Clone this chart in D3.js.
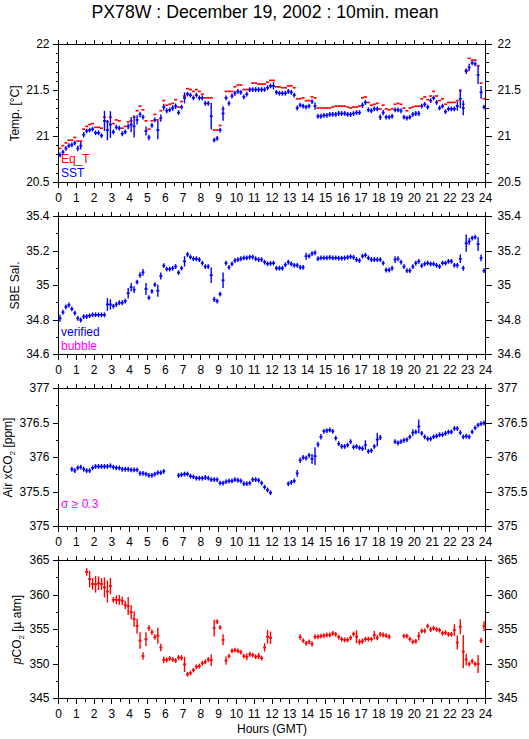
<!DOCTYPE html>
<html><head><meta charset="utf-8">
<script src="https://cdn.jsdelivr.net/npm/d3@7"></script>
<style>
body{margin:0;background:#fff}
svg{display:block}
text{font-family:"Liberation Sans",Arial,Helvetica,sans-serif}
</style></head><body>
<svg id="c" width="529" height="739"></svg>
<script>
const title = "PX78W : December 19, 2002 : 10min. mean";
const xTitle = "Hours (GMT)";
const hours = [0,1,2,3,4,5,6,7,8,9,10,11,12,13,14,15,16,17,18,19,20,21,22,23,24];
const slotHours = 1/6; // 10-minute means

const tempTicks = [20.5,21,21.5,22];
const tempMinor = [20.6,20.7,20.8,20.9,21.1,21.2,21.3,21.4,21.6,21.7,21.8,21.9];
const salTicks = [34.6,34.8,35,35.2,35.4];
const salMinor = [34.7,34.9,35.1,35.3];
const co2Ticks = [375,375.5,376,376.5,377];
const co2Minor = [375.25,375.75,376.25,376.75];
const pco2Ticks = [345,350,355,360,365];
const pco2Minor = [347.5,352.5,357.5,362.5];

const sst = [20.80,20.83,20.87,20.90,20.91,20.93,20.87,20.90,21.02,21.06,
21.07,21.08,21.04,21.04,21.01,21.17,21.07,21.13,21.05,21.10,
21.09,21.03,21.05,21.11,21.13,21.11,21.18,21.24,21.21,21.06,
20.99,21.12,21.18,21.07,21.20,21.32,21.28,21.29,21.31,21.33,
21.26,21.32,21.42,21.46,21.45,21.42,21.45,21.42,21.42,21.36,
21.36,21.22,20.96,20.98,21.07,21.25,21.42,21.36,21.44,21.47,
21.49,21.48,21.43,21.46,21.51,21.51,21.51,21.51,21.51,21.51,
21.53,21.55,21.55,21.48,21.47,21.47,21.47,21.49,21.48,21.45,
21.31,21.34,21.33,21.32,21.33,21.38,21.33,21.22,21.22,21.23,
21.23,21.24,21.24,21.24,21.25,21.25,21.25,21.24,21.24,21.25,
21.26,21.26,21.34,21.37,21.29,21.28,21.30,21.30,21.21,21.26,
21.21,21.21,21.22,21.29,21.29,21.28,21.21,21.20,21.21,21.24,
21.25,21.25,21.33,21.35,21.32,21.39,21.42,21.37,21.31,21.33,
21.27,21.30,21.30,21.30,21.33,21.41,21.31,21.71,21.75,21.80,
21.79,21.67,21.48,21.32];
const sstErr = [0.02,0.02,0.02,0.02,0.02,0.02,0.03,0.04,0.03,0.02,0.02,0.02,
0.02,0.02,0.02,0.11,0.11,0.145,0.02,0.02,0.02,0.02,0.02,0.03,
0.08,0.12,0.05,0.03,0.02,0.05,0.03,0.02,0.02,0.1,0.04,0.035,
0.02,0.02,0.03,0.03,0.02,0.02,0.06,0.02,0.02,0.02,0.02,0.02,
0.02,0.02,0.02,0.145,0.02,0.02,0.02,0.08,0.02,0.02,0.02,0.02,
0.02,0.02,0.02,0.02,0.02,0.02,0.02,0.02,0.02,0.02,0.02,0.02,
0.04,0.02,0.02,0.02,0.02,0.02,0.02,0.02,0.02,0.02,0.02,0.02,
0.02,0.02,0.04,0.02,0.02,0.02,0.02,0.02,0.02,0.02,0.02,0.02,
0.02,0.02,0.02,0.02,0.02,0.02,0.03,0.02,0.02,0.02,0.02,0.02,
0.03,0.03,0.02,0.02,0.02,0.02,0.02,0.02,0.02,0.02,0.02,0.02,
0.02,0.02,0.02,0.02,0.02,0.02,0.02,0.02,0.02,0.02,0.02,0.02,
0.02,0.02,0.05,0.1,0.08,0.03,0.04,0.02,0.02,0.1,0.07,0.02];
const eqT = [20.87,20.90,20.93,20.96,20.96,20.99,20.95,20.95,21.08,21.11,
21.13,21.14,21.10,21.10,21.09,21.21,21.16,21.21,21.14,21.18,
21.17,21.09,21.11,21.16,21.17,21.21,21.28,21.33,21.29,21.17,
21.08,21.17,21.24,21.18,21.28,21.39,21.34,21.35,21.36,21.40,
21.32,21.38,21.44,21.52,21.51,21.49,21.51,21.49,21.46,21.42,
21.42,21.42,21.07,21.07,21.12,21.30,21.49,21.49,21.49,21.54,
21.56,21.56,21.51,21.51,21.51,21.58,21.58,21.57,21.57,21.57,
21.59,21.61,21.61,21.54,21.54,21.53,21.53,21.55,21.55,21.53,
21.41,21.41,21.42,21.39,21.39,21.43,21.42,21.31,21.31,21.31,
21.31,21.31,21.32,21.33,21.33,21.33,21.33,21.32,21.31,21.32,
21.32,21.33,21.42,21.43,21.37,21.34,21.35,21.36,21.30,21.34,
21.30,21.29,21.30,21.35,21.36,21.35,21.31,21.28,21.31,21.32,
21.33,21.33,21.41,21.43,21.40,21.44,21.49,21.44,21.39,21.41,
21.35,21.37,21.37,21.37,21.39,21.50,21.35,21.72,21.85,21.83,
21.83,21.77,21.58,21.41];

const sal = [34.81,34.845,34.876,34.887,34.864,34.84,34.81,34.80,34.82,34.82,
34.825,34.83,34.83,34.83,34.83,34.83,34.89,34.89,34.88,34.89,
34.90,34.90,34.91,34.955,34.99,34.976,35.02,35.06,35.076,34.98,
34.93,34.966,35.005,34.97,35.055,35.115,35.095,35.095,35.10,35.11,
35.075,35.10,35.14,35.18,35.165,35.155,35.155,35.15,35.13,35.11,
35.11,35.06,34.92,34.91,34.95,35.03,35.13,35.105,35.125,35.145,
35.15,35.155,35.16,35.16,35.165,35.165,35.155,35.15,35.15,35.135,
35.126,35.128,35.13,35.10,35.10,35.10,35.12,35.135,35.125,35.117,
35.117,35.105,35.105,35.17,35.17,35.185,35.19,35.155,35.16,35.16,
35.16,35.163,35.16,35.16,35.158,35.158,35.16,35.163,35.167,35.163,
35.15,35.145,35.17,35.176,35.16,35.15,35.15,35.15,35.15,35.13,
35.09,35.09,35.10,35.15,35.155,35.135,35.11,35.086,35.086,35.11,
35.13,35.14,35.115,35.125,35.13,35.125,35.125,35.117,35.11,35.13,
35.13,35.14,35.14,35.117,35.117,35.155,35.10,35.245,35.255,35.275,
35.28,35.24,35.16,35.086];
const salErr = [0.02,0.01,0.01,0.01,0.01,0.01,0.01,0.01,0.01,0.01,0.01,0.01,
0.01,0.01,0.01,0.01,0.037,0.03,0.01,0.01,0.01,0.01,0.01,0.03,
0.025,0.02,0.01,0.017,0.02,0.035,0.01,0.01,0.01,0.035,0.02,0.01,
0.01,0.01,0.01,0.01,0.01,0.01,0.03,0.01,0.01,0.01,0.01,0.01,
0.01,0.01,0.01,0.045,0.015,0.01,0.01,0.045,0.01,0.01,0.01,0.01,
0.01,0.01,0.01,0.01,0.01,0.01,0.01,0.01,0.01,0.01,0.01,0.01,
0.01,0.01,0.01,0.01,0.01,0.01,0.01,0.01,0.01,0.01,0.01,0.02,
0.01,0.01,0.01,0.01,0.01,0.01,0.01,0.01,0.01,0.01,0.01,0.01,
0.01,0.01,0.01,0.01,0.01,0.01,0.01,0.01,0.01,0.01,0.01,0.01,
0.01,0.01,0.01,0.01,0.01,0.02,0.01,0.01,0.01,0.01,0.01,0.01,
0.01,0.01,0.01,0.01,0.01,0.01,0.01,0.01,0.01,0.01,0.01,0.01,
0.01,0.01,0.01,0.025,0.01,0.05,0.02,0.01,0.01,0.04,0.02,0.01];

const airCO2 = [null,null,null,null,
375.83,375.81,375.85,375.86,375.83,375.81,375.81,375.85,375.87,375.87,375.87,375.87,
375.87,375.88,375.86,375.85,375.85,375.83,375.83,375.83,375.82,375.82,375.82,375.77,
375.77,375.76,375.74,375.74,375.76,375.78,375.78,375.80,
null,null,null,null,
375.74,375.75,375.76,375.76,375.73,375.72,375.70,375.70,375.70,375.71,375.70,375.68,
375.68,375.68,375.63,375.63,375.65,375.66,375.66,375.68,375.67,375.66,375.62,375.62,
375.63,375.68,375.68,375.67,375.63,375.57,375.53,375.49,
null,null,null,null,null,
375.62,375.64,375.66,375.77,375.96,376.00,375.99,376.03,375.98,376.02,376.19,376.30,
376.38,376.39,376.40,376.38,376.28,376.20,376.16,376.16,376.18,376.23,376.15,376.16,
376.14,376.13,376.18,376.09,376.10,376.16,376.26,376.29,
null,null,null,null,
376.23,376.21,376.23,376.25,376.26,376.30,376.36,376.37,376.45,376.35,376.30,376.27,
376.27,376.30,376.31,376.33,376.33,376.35,376.37,376.37,376.42,376.42,376.36,376.30,
376.31,376.30,376.37,376.43,376.47,376.49,376.50];
const airCO2Err = [0,0,0,0,
0.03,0.03,0.03,0.03,0.03,0.03,0.03,0.03,0.03,0.03,0.03,0.03,
0.03,0.03,0.03,0.03,0.03,0.03,0.03,0.03,0.03,0.03,0.03,0.03,
0.03,0.03,0.03,0.03,0.03,0.03,0.03,0.03,
0,0,0,0,
0.03,0.03,0.03,0.03,0.03,0.03,0.03,0.03,0.03,0.03,0.03,0.03,
0.03,0.03,0.03,0.03,0.03,0.03,0.03,0.03,0.03,0.03,0.03,0.03,
0.03,0.03,0.03,0.03,0.03,0.03,0.03,0.03,
0,0,0,0,0,
0.03,0.03,0.03,0.05,0.04,0.03,0.03,0.03,0.07,0.13,0.04,0.04,
0.03,0.03,0.03,0.03,0.03,0.03,0.03,0.03,0.03,0.03,0.03,0.03,
0.03,0.03,0.07,0.03,0.03,0.03,0.1,0.03,
0,0,0,0,
0.03,0.03,0.03,0.03,0.03,0.03,0.05,0.03,0.1,0.03,0.03,0.03,
0.03,0.03,0.03,0.03,0.03,0.03,0.03,0.03,0.03,0.03,0.03,0.03,
0.03,0.03,0.03,0.03,0.03,0.03,0.03];

const pCO2 = [null,null,null,null,null,null,null,null,null,
363.35,362.3,361.6,361.55,361.7,361.6,361.1,360.5,361.3,
359.3,359.3,359.3,359.15,358.55,358.4,357.5,356.5,355.5,353.4,351.15,353.6,
355.2,354.6,353.9,354.1,352.4,350.6,350.6,350.8,350.65,350.5,350.95,350.9,
349.95,348.5,348.7,349.1,349.6,349.7,350.1,350.3,350.65,350.55,355.2,356.15,
355.3,353.5,350.5,351.15,351.9,352.0,351.9,351.7,351.15,351.05,351.4,351.3,
351.05,351.15,350.85,352.4,353.95,353.8,
null,null,null,null,null,null,null,null,null,
353.9,353.4,353.0,353.2,352.9,353.95,353.95,354.05,354.1,354.2,354.2,354.45,
354.3,353.9,353.6,353.5,353.5,353.8,354.35,353.95,353.2,353.3,353.6,353.6,
353.6,354.2,353.8,354.3,354.2,354.1,353.95,
null,null,null,null,
354.05,354.05,353.6,353.2,353.3,354.05,354.8,354.8,355.5,355.0,355.2,355.0,
354.9,354.45,354.55,354.3,354.3,354.9,353.1,355.4,351.8,350.65,350.0,350.4,
350.0,350.0,353.4,355.5];
const pCO2Err = [0,0,0,0,0,0,0,0,0,
0.55,1.2,0.85,1.2,1.0,0.85,1.45,1.6,1.2,
0.4,0.65,0.7,0.6,0.6,1.3,1.0,1.1,1.1,1.2,0.55,1.0,
0.4,0.4,0.4,1.15,0.55,0.5,0.3,0.3,0.3,0.3,0.3,0.4,
1.1,0.2,0.3,0.3,0.3,0.3,0.3,0.3,0.3,0.85,1.2,0.3,
0.35,0.8,0.6,0.35,0.3,0.3,0.3,0.3,0.3,0.5,0.3,0.3,
0.3,0.45,0.3,0.6,1.0,0.9,
0,0,0,0,0,0,0,0,0,
0.4,0.3,0.3,0.35,0.4,0.25,0.25,0.25,0.25,0.25,0.25,0.25,
0.25,0.25,0.25,0.25,0.25,0.25,0.25,0.95,0.4,0.4,0.25,0.25,
0.25,0.6,0.35,0.25,0.25,0.25,0.25,
0,0,0,0,
0.3,0.3,0.3,0.3,0.3,0.6,0.3,0.3,0.3,0.3,0.3,0.3,
0.3,0.3,0.3,0.3,0.3,0.85,1.0,1.1,2.4,0.85,0.3,0.3,
0.3,1.3,0.4,0.7];

const BLUE = "#0000ff", RED = "#ff0000", MAGENTA = "#ff00ff";
const FONT = "'Liberation Sans',Arial,Helvetica,sans-serif";

const svg = d3.select("#c");
const x = d3.scaleLinear().domain([0, 24]).range([58.5, 485.5]);
const halfHours = hours.slice(0, -1).map(h => h + 0.5);
const PH = 138;
const MIN_HALF = 2.4; // minimum half-height of a cross, px

svg.append("text").attr("x", 265).attr("y", 17.5).attr("text-anchor", "middle")
  .attr("font-size", 17.7).attr("fill", "#000").text(title);

function axisG(g, axis, tr) {
  const a = g.append("g").attr("transform", tr).call(axis.offset(0));
  a.select(".domain").remove();
  a.attr("font-size", 12).attr("font-family", FONT);
  a.selectAll("line").attr("stroke", "#000").attr("shape-rendering", "crispEdges");
  a.selectAll("text").attr("fill", "#000");
  return a;
}

function series(g, y, vals, errs, color, vert) {
  const pts = [];
  vals.forEach((v, i) => { if (v != null) pts.push({ t: (i + 0.5) * slotHours, v, e: errs ? errs[i] : 0 }); });
  const s = g.append("g");
  s.append("g").selectAll("line").data(pts).enter().append("line")
    .attr("x1", d => x(d.t - slotHours / 2)).attr("x2", d => x(d.t + slotHours / 2))
    .attr("y1", d => y(d.v)).attr("y2", d => y(d.v))
    .attr("stroke", color).attr("stroke-width", 1.7);
  if (vert) {
    s.append("g").selectAll("line").data(pts).enter().append("line")
      .attr("x1", d => x(d.t)).attr("x2", d => x(d.t))
      .attr("y1", d => Math.max(y(d.v - d.e), y(d.v) + MIN_HALF))
      .attr("y2", d => Math.min(y(d.v + d.e), y(d.v) - MIN_HALF))
      .attr("stroke", color).attr("stroke-width", 1.4);
  }
}

function panel(p) {
  const g = svg.append("g");
  const top = p.top, bot = p.top + PH;
  const y = d3.scaleLinear().domain(p.domain).range([bot, top]);
  axisG(g, d3.axisBottom(x).tickValues(hours).tickSize(5).tickPadding(6).tickFormat(d => String(d)), `translate(0,${bot})`);
  axisG(g, d3.axisBottom(x).tickValues(halfHours).tickSize(3).tickFormat(""), `translate(0,${bot})`);
  axisG(g, d3.axisTop(x).tickValues(hours).tickSize(5).tickFormat(""), `translate(0,${top})`);
  axisG(g, d3.axisTop(x).tickValues(halfHours).tickSize(3).tickFormat(""), `translate(0,${top})`);
  axisG(g, d3.axisLeft(y).tickValues(p.ticks).tickSize(6).tickPadding(3).tickFormat(d => String(d)), `translate(${x(0)},0)`);
  axisG(g, d3.axisLeft(y).tickValues(p.minor).tickSize(3).tickFormat(""), `translate(${x(0)},0)`);
  axisG(g, d3.axisRight(y).tickValues(p.ticks).tickSize(6).tickPadding(6).tickFormat(d => String(d)), `translate(${x(24)},0)`);
  axisG(g, d3.axisRight(y).tickValues(p.minor).tickSize(3).tickFormat(""), `translate(${x(24)},0)`);
  g.append("rect").attr("x", x(0)).attr("y", top).attr("width", x(24) - x(0)).attr("height", PH)
    .attr("fill", "none").attr("stroke", "#000").attr("stroke-width", 1).attr("shape-rendering", "crispEdges");
  p.draw(g, y);
  const t = g.append("text").attr("transform", `translate(${p.labelX},${top + PH / 2}) rotate(-90)`)
    .attr("text-anchor", "middle").attr("font-size", 12).attr("fill", "#000");
  p.label(t);
  (p.legend || []).forEach(l => {
    g.append("text").attr("x", 61).attr("y", l.y).attr("font-size", 12).attr("fill", l.color).text(l.text);
  });
}

panel({
  top: 44.5, domain: [20.5, 22], ticks: tempTicks, minor: tempMinor, labelX: 19,
  draw: (g, y) => { series(g, y, eqT, null, RED, false); series(g, y, sst, sstErr, BLUE, true); },
  label: t => t.text("Temp. [°C]"),
  legend: [{ text: "Eq_T", color: RED, y: 163 }, { text: "SST", color: BLUE, y: 177 }]
});
panel({
  top: 216.5, domain: [34.6, 35.4], ticks: salTicks, minor: salMinor, labelX: 18.7,
  draw: (g, y) => series(g, y, sal, salErr, BLUE, true),
  label: t => t.text("SBE Sal."),
  legend: [{ text: "verified", color: BLUE, y: 336 }, { text: "bubble", color: MAGENTA, y: 349.5 }]
});
panel({
  top: 388.5, domain: [375, 377], ticks: co2Ticks, minor: co2Minor, labelX: 11.5,
  draw: (g, y) => series(g, y, airCO2, airCO2Err, BLUE, true),
  label: t => { t.append("tspan").text("Air xCO"); t.append("tspan").attr("font-size", 8).attr("dy", 3).text("2"); t.append("tspan").attr("dy", -3).text(" [ppm]"); },
  legend: [{ text: "σ ≥ 0.3", color: MAGENTA, y: 508 }]
});
panel({
  top: 560.5, domain: [345, 365], ticks: pco2Ticks, minor: pco2Minor, labelX: 20.5,
  draw: (g, y) => series(g, y, pCO2, pCO2Err, RED, true),
  label: t => { t.append("tspan").attr("font-style", "italic").text("p"); t.append("tspan").text("CO"); t.append("tspan").attr("font-size", 8).attr("dy", 3).text("2"); t.append("tspan").attr("dy", -3).text(" [µ atm]"); }
});

svg.append("text").attr("x", (x(0) + x(24)) / 2).attr("y", 733).attr("text-anchor", "middle")
  .attr("font-size", 12).attr("fill", "#000").text(xTitle);
</script>
</body></html>
